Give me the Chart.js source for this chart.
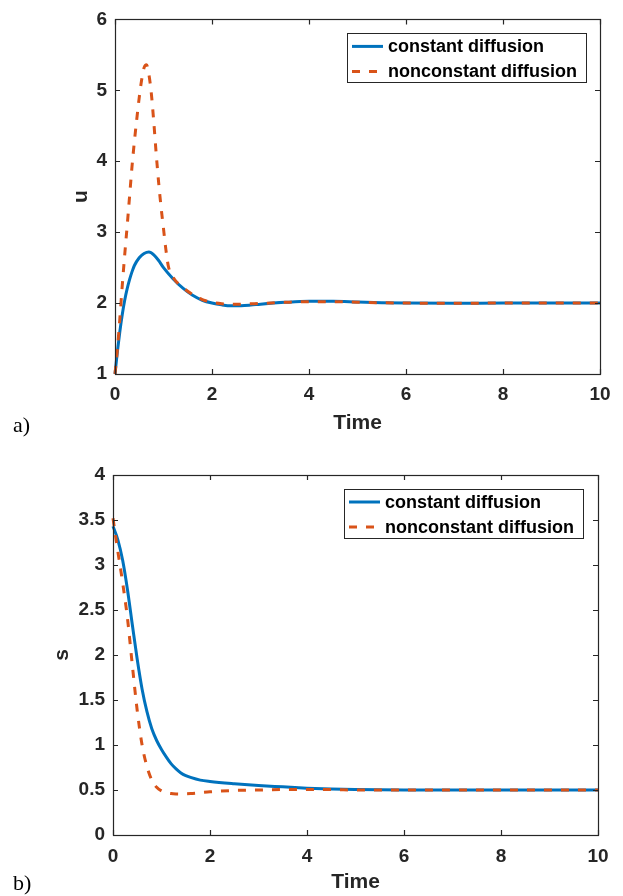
<!DOCTYPE html>
<html>
<head>
<meta charset="utf-8">
<script src="https://cdn.jsdelivr.net/npm/chart.js@4"></script>
<style>
  html, body { margin: 0; padding: 0; background: #fff; }
  body { width: 623px; height: 896px; position: relative; overflow: hidden; }
  #c1 { position: absolute; left: 0; top: 0; }
  #c2 { position: absolute; left: 0; top: 440px; }
  .tag { position: absolute; font-family: "Liberation Serif", "Times New Roman", serif; font-size: 22px; color: #000; }
</style>
</head>
<body>
<canvas id="c1" width="623" height="440"></canvas>
<canvas id="c2" width="623" height="456"></canvas>
<div class="tag" style="left:13px; top:412px;">a)</div>
<div class="tag" style="left:13px; top:870px;">b)</div>
<script>
// ---------- data ----------
const seriesLabels = ['constant diffusion', 'nonconstant diffusion'];

// panel a) : u versus Time
const timeUConst = [0,0.05,0.1,0.15,0.2,0.25,0.3,0.35,0.4,0.5,0.6,0.7,0.8,0.9,1.0,1.2,1.4,1.6,1.8,2.0,2.2,2.4,2.6,2.8,3.0,3.5,4.0,4.5,5.0,5.5,6,7,8,9,10];
const uConst     = [1,1.32,1.6,1.84,2.04,2.2,2.33,2.44,2.53,2.64,2.7,2.72,2.68,2.6,2.5,2.34,2.21,2.11,2.04,2.0,1.975,1.962,1.963,1.972,1.985,2.01,2.025,2.025,2.015,2.005,2.0,1.998,2.0,2.0,2.0];
const timeUNon   = [0,0.05,0.1,0.15,0.2,0.25,0.3,0.35,0.4,0.45,0.5,0.55,0.6,0.65,0.7,0.75,0.8,0.85,0.9,0.95,1.0,1.05,1.1,1.2,1.4,1.6,1.8,2.0,2.2,2.4,2.6,2.8,3.0,3.5,4.0,4.5,5.0,5.5,6,7,8,9,10];
const uNon       = [1,1.35,1.78,2.25,2.68,3.08,3.5,3.92,4.28,4.6,4.9,5.15,5.32,5.36,5.22,4.95,4.55,4.1,3.7,3.35,3.05,2.75,2.52,2.36,2.22,2.12,2.05,2.01,1.99,1.985,1.985,1.99,1.995,2.01,2.02,2.02,2.012,2.005,2.0,1.998,2.0,2.0,2.0];

// panel b) : s versus Time
const timeS  = [0,0.1,0.2,0.3,0.4,0.5,0.6,0.7,0.8,0.9,1.0,1.1,1.2,1.3,1.4,1.5,1.6,1.8,2.0,2.5,3,3.5,4,4.5,5,6,7,8,9,10];
const sConst = [3.43,3.28,3.05,2.72,2.33,1.95,1.62,1.37,1.18,1.05,0.95,0.865,0.79,0.735,0.69,0.66,0.64,0.61,0.595,0.57,0.55,0.535,0.52,0.51,0.505,0.5,0.5,0.5,0.5,0.5];
const sNon   = [3.52,3.15,2.8,2.4,1.88,1.38,1.0,0.76,0.61,0.53,0.49,0.47,0.46,0.456,0.455,0.457,0.46,0.47,0.48,0.495,0.5,0.505,0.505,0.505,0.5,0.5,0.5,0.5,0.5,0.5];

// axis ticks
const timeTicks = [0,2,4,6,8,10];
const uTicks = [1,2,3,4,5,6];
const sTicks = [0,0.5,1,1.5,2,2.5,3,3.5,4];

// ---------- styling ----------
const BLUE = '#0072BD';
const ORANGE = '#D95319';
const INK = '#262626';
const FONT = '"Liberation Sans", Arial, Helvetica, sans-serif';

const toPts = (xs, ys) => xs.map((x, i) => ({ x, y: ys[i] }));

const matlabBox = {
  id: 'matlabBox',
  afterDatasetsDraw(chart, args, opts) {
    const { ctx, chartArea: a, scales: { x, y } } = chart;
    ctx.save();
    ctx.strokeStyle = INK;
    ctx.lineWidth = 1.2;
    const tl = 5;
    ctx.beginPath();
    x.ticks.forEach(t => {
      const px = Math.round(x.getPixelForValue(t.value)) + 0.5;
      ctx.moveTo(px, a.bottom); ctx.lineTo(px, a.bottom - tl);
      ctx.moveTo(px, a.top); ctx.lineTo(px, a.top + tl);
    });
    y.ticks.forEach(t => {
      const py = Math.round(y.getPixelForValue(t.value)) + 0.5;
      ctx.moveTo(a.left, py); ctx.lineTo(a.left + tl, py);
      ctx.moveTo(a.right, py); ctx.lineTo(a.right - tl, py);
    });
    ctx.stroke();
    ctx.strokeRect(Math.round(a.left) + 0.5, Math.round(a.top) + 0.5, Math.round(a.width), Math.round(a.height));

    // legend (north-east, inside axes)
    const bw = 239, bh = 49;
    const bx = a.right - opts.rightGap - bw;
    const by = a.top + opts.topGap;
    ctx.fillStyle = '#fff';
    ctx.fillRect(bx, by, bw, bh);
    ctx.strokeStyle = INK;
    ctx.lineWidth = 1;
    ctx.strokeRect(Math.round(bx) + 0.5, Math.round(by) + 0.5, bw, bh);
    ctx.font = 'bold 18px ' + FONT;
    ctx.textBaseline = 'middle';
    ctx.textAlign = 'left';
    const ordered = [...chart.data.datasets].sort((p, q) => p.legendIndex - q.legendIndex);
    ordered.forEach((ds, i) => {
      const cy = by + 13 + i * 25;
      ctx.save();
      ctx.strokeStyle = ds.borderColor;
      ctx.lineWidth = ds.borderWidth;
      ctx.setLineDash(ds.borderDash || []);
      ctx.beginPath();
      ctx.moveTo(bx + 5, cy); ctx.lineTo(bx + 36, cy);
      ctx.stroke();
      ctx.restore();
      ctx.fillStyle = '#000';
      ctx.fillText(ds.label, bx + 41, cy + 1);
    });
    ctx.restore();
  }
};

function makeChart(id, cfg) {
  const datasets = [
    { label: seriesLabels[1], data: toPts(cfg.tN, cfg.vN), borderColor: ORANGE, borderWidth: 3,
      borderDash: [8, 9], order: 0, legendIndex: 1 },
    { label: seriesLabels[0], data: toPts(cfg.tC, cfg.vC), borderColor: BLUE, borderWidth: 3,
      order: 1, legendIndex: 0 }
  ];
  return new Chart(document.getElementById(id), {
    type: 'line',
    data: { datasets },
    options: {
      responsive: false,
      animation: false,
      devicePixelRatio: 1,
      clip: 3,
      elements: { point: { radius: 0 }, line: { cubicInterpolationMode: 'monotone', fill: false } },
      layout: { padding: { top: cfg.padTop, right: cfg.padRight, left: 0, bottom: 0 } },
      plugins: {
        legend: { display: false },
        tooltip: { enabled: false },
        matlabBox: { rightGap: cfg.legRight, topGap: 14 }
      },
      scales: {
        x: {
          type: 'linear', min: 0, max: 10,
          afterBuildTicks: s => { s.ticks = timeTicks.map(v => ({ value: v })); },
          afterFit: s => { s.height = cfg.xHeight; },
          grid: { display: false, drawTicks: false },
          border: { display: false },
          ticks: { color: INK, padding: cfg.xTickPad, font: { family: FONT, size: 19, weight: 'bold' } },
          title: { display: true, text: 'Time', color: INK, padding: { top: 0, bottom: cfg.xTitlePad },
                   font: { family: FONT, size: 21, weight: 'bold' } }
        },
        y: {
          type: 'linear', min: cfg.yMin, max: cfg.yMax,
          afterBuildTicks: s => { s.ticks = cfg.yTicks.map(v => ({ value: v })); },
          afterFit: s => { s.width = cfg.yWidth; },
          grid: { display: false, drawTicks: false },
          border: { display: false },
          ticks: { color: INK, padding: 8, font: { family: FONT, size: 19, weight: 'bold' },
                   callback: v => String(v) },
          title: { display: true, text: cfg.yTitle, color: INK, padding: { top: cfg.yTitlePad, bottom: 0 },
                   font: { family: FONT, size: 21, weight: 'bold' } }
        }
      }
    },
    plugins: [matlabBox]
  });
}

makeChart('c1', {
  tC: timeUConst, vC: uConst, tN: timeUNon, vN: uNon,
  yMin: 1, yMax: 6, yTicks: uTicks, yTitle: 'u',
  padTop: 15, padRight: 23, yWidth: 115, xHeight: 66,
  xTickPad: 9, xTitlePad: 4, yTitlePad: 69, legRight: 14
});

makeChart('c2', {
  tC: timeS, vC: sConst, tN: timeS, vN: sNon,
  yMin: 0, yMax: 4, yTicks: sTicks, yTitle: 's',
  padTop: 35, padRight: 25, yWidth: 113, xHeight: 61,
  xTickPad: 10, xTitlePad: 1, yTitlePad: 50, legRight: 15
});
</script>
</body>
</html>
